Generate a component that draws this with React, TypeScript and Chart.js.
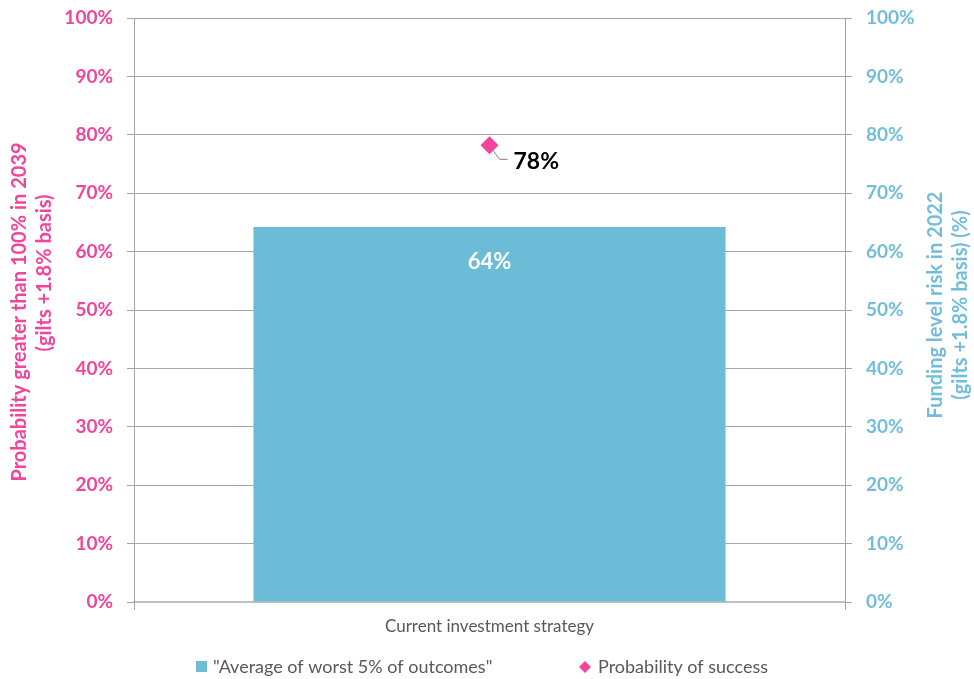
import React, { useEffect, useRef } from "react";
import { Chart, registerables } from "chart.js";

Chart.register(...registerables);

const categories = ["Current investment strategy"];
const worstOutcomes = [64.2];
const probabilityOfSuccess = [78.2];
const tickValues = [0, 10, 20, 30, 40, 50, 60, 70, 80, 90, 100];
const seriesNames = ['"Average of worst 5% of outcomes"', "Probability of success"];
const leftTitle = ["Probability greater than 100% in 2039", "(gilts +1.8% basis)"];
const rightTitle = ["Funding level risk in 2022", "(gilts +1.8% basis) (%)"];

const PINK = "#F2449B";
const BLUE = "#6CBBD7";
const BLUE_TEXT = "#72BEDA";
const GRID = "#A6A6A6";
const FONT = "Lato, 'Open Sans', sans-serif";

const overlayPlugin = {
  id: "overlay",
  afterDraw(chart: any) {
    const ctx = chart.ctx as CanvasRenderingContext2D;
    ctx.save();
    // left title
    ctx.fillStyle = PINK;
    ctx.font = `bold 20px ${FONT}`;
    ctx.textAlign = "center";
    ctx.textBaseline = "middle";
    ctx.save();
    ctx.translate(20, 312);
    ctx.rotate(-Math.PI / 2);
    ctx.fillText(leftTitle[0], 0, 0);
    ctx.restore();
    ctx.save();
    ctx.translate(45, 273);
    ctx.rotate(-Math.PI / 2);
    ctx.fillText(leftTitle[1], 0, 0);
    ctx.restore();
    // right title
    ctx.fillStyle = BLUE_TEXT;
    ctx.save();
    ctx.translate(936, 305);
    ctx.rotate(-Math.PI / 2);
    ctx.fillText(rightTitle[0], 0, 0);
    ctx.restore();
    ctx.save();
    ctx.translate(961, 305);
    ctx.rotate(-Math.PI / 2);
    ctx.fillText(rightTitle[1], 0, 0);
    ctx.restore();

    // bar label
    const bar = chart.getDatasetMeta(0).data[0];
    ctx.fillStyle = "#FFFFFF";
    ctx.font = `bold 22px ${FONT}`;
    ctx.fillText(Math.round(worstOutcomes[0]) + "%", bar.x, bar.y + 35);

    // point label with leader
    const pt = chart.getDatasetMeta(1).data[0];
    ctx.strokeStyle = "#7F7F7F";
    ctx.lineWidth = 1;
    ctx.beginPath();
    ctx.moveTo(pt.x + 2, pt.y + 3);
    ctx.lineTo(pt.x + 10, pt.y + 14);
    ctx.lineTo(pt.x + 18, pt.y + 14);
    ctx.stroke();
    ctx.fillStyle = "#000000";
    ctx.font = `bold 23px ${FONT}`;
    ctx.textAlign = "left";
    ctx.fillText(Math.round(probabilityOfSuccess[0]) + "%", pt.x + 24, pt.y + 16);

    // legend
    ctx.textBaseline = "middle";
    const ly = 667;
    let x = 196;
    ctx.fillStyle = BLUE;
    ctx.fillRect(x, ly - 6, 11, 11);
    ctx.fillStyle = "#595959";
    ctx.font = `18px ${FONT}`;
    ctx.fillText(seriesNames[0], x + 17, ly);
    x = 579;
    ctx.fillStyle = PINK;
    ctx.beginPath();
    ctx.moveTo(x + 6, ly - 6);
    ctx.lineTo(x + 12, ly);
    ctx.lineTo(x + 6, ly + 6);
    ctx.lineTo(x, ly);
    ctx.closePath();
    ctx.fill();
    ctx.fillStyle = "#595959";
    ctx.fillText(seriesNames[1], x + 19, ly);
    ctx.restore();
  },
};

export default function App() {
  const ref = useRef<HTMLCanvasElement | null>(null);
  useEffect(() => {
    if (!ref.current) return;
    const pctTick = (v: any) => (tickValues.includes(Number(v)) ? v + "%" : "");
    const noPad = (w: number) => (s: any) => {
      s.width = w;
      s.paddingTop = 0;
      s.paddingBottom = 0;
    };
    const chart = new Chart(ref.current, {
      type: "bar",
      data: {
        labels: categories,
        datasets: [
          {
            type: "bar",
            label: seriesNames[0],
            data: worstOutcomes,
            backgroundColor: BLUE,
            yAxisID: "y1",
            categoryPercentage: 1,
            barPercentage: 0.664,
            order: 2,
          } as any,
          {
            type: "line",
            label: seriesNames[1],
            data: probabilityOfSuccess,
            yAxisID: "y",
            showLine: false,
            pointStyle: "rectRot",
            pointRadius: 9,
            pointBackgroundColor: PINK,
            pointBorderColor: PINK,
            pointBorderWidth: 0,
            order: 1,
          } as any,
        ],
      },
      options: {
        responsive: false,
        animation: false,
        events: [],
        layout: { padding: { top: 18, left: 0, right: 0, bottom: 0 } },
        plugins: { legend: { display: false }, tooltip: { enabled: false } },
        scales: {
          x: {
            type: "category",
            grid: { offset: true, drawOnChartArea: false, drawTicks: true, tickLength: 8, color: GRID },
            border: { color: "#BFBFBF", width: 2 },
            ticks: { color: "#595959", font: { family: FONT, size: 17 }, padding: 6 },
            afterFit: (s: any) => { s.height = 77; s.paddingLeft = 0; s.paddingRight = 0; },
          },
          y: {
            position: "left",
            min: 0,
            max: 100,
            ticks: { stepSize: 10, callback: pctTick, color: PINK, font: { family: FONT, size: 19, weight: "bold" }, padding: 14 },
            grid: { color: GRID, tickLength: 7 },
            border: { display: true, color: GRID },
            afterFit: noPad(134),
          },
          y1: {
            position: "right",
            min: 0,
            max: 100,
            ticks: { stepSize: 10, callback: pctTick, color: BLUE_TEXT, font: { family: FONT, size: 19, weight: "bold" }, padding: 14 },
            grid: { color: GRID, tickLength: 7, drawOnChartArea: false },
            border: { display: true, color: GRID },
            afterFit: noPad(129),
          },
        },
      } as any,
      plugins: [overlayPlugin],
    });
    return () => chart.destroy();
  }, []);
  return (
    <div style={{ position: "fixed", left: 0, top: 0, width: 974, height: 679, background: "#fff" }}>
      <canvas ref={ref} width={974} height={679} style={{ display: "block" }} />
    </div>
  );
}
